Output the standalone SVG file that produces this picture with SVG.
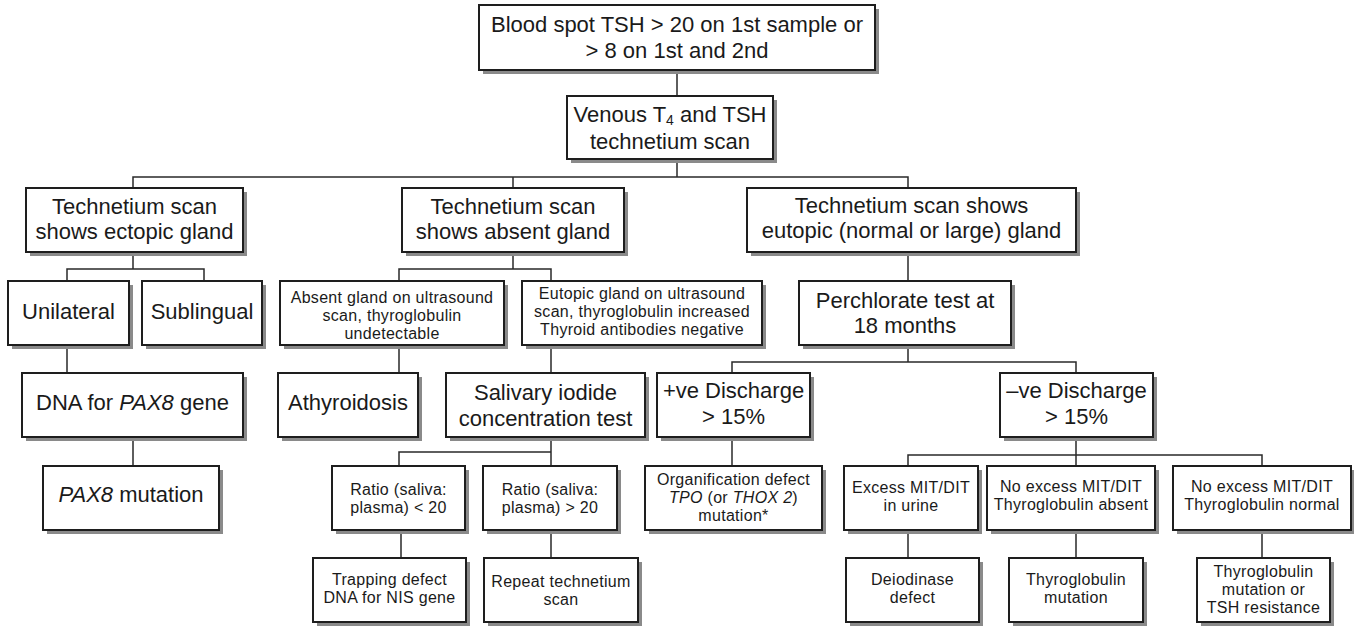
<svg xmlns="http://www.w3.org/2000/svg" width="1354" height="627" viewBox="0 0 1354 627">
  <style>
    .sh { fill: #8a8a8a; }
    .bx { fill: #ffffff; stroke: #1e1e1e; stroke-width: 2; }
    .lg { font-family: "Liberation Sans", Arial, sans-serif; font-size: 22px; fill: #1a1a1a; text-anchor: middle; }
    .sm { font-family: "Liberation Sans", Arial, sans-serif; font-size: 16px; letter-spacing: 0.3px; fill: #1a1a1a; text-anchor: middle; }
    .it { font-style: italic; }
    #connectors path { fill: none; stroke: #2a2a2a; stroke-width: 1.5; }
  </style>
  <rect width="1354" height="627" fill="#ffffff"/>

  <!-- tree connectors -->
  <g id="connectors">
    <path d="M677 70V96M677 159V177"/>
    <path d="M133 188V177H908V188M513 177V188"/>
    <path d="M133 252V269M67 281V269H204V281"/>
    <path d="M513 252V269M399 281V269H551V281"/>
    <path d="M908 252V281"/>
    <path d="M67 345V373M133 437V466"/>
    <path d="M399 345V373M551 345V373"/>
    <path d="M908 345V362M732 373V362H1076V373"/>
    <path d="M551 437V452M399 466V452H551V466"/>
    <path d="M732 437V466"/>
    <path d="M1076 437V455M908 466V455H1262V466M1076 455V466"/>
    <path d="M401 530V558M551 530V558M908 530V558M1076 530V558M1262 530V558"/>
  </g>

  <!-- level 0 -->
  <g id="n-bloodspot">
    <rect class="sh" x="483" y="9" width="396" height="65"/>
    <rect class="bx" x="479" y="5" width="396" height="65"/>
    <text class="lg" x="677" y="32">Blood spot TSH &gt; 20 on 1st sample or<tspan x="677" dy="26">&gt; 8 on 1st and 2nd</tspan></text>
  </g>
  <g id="n-venous">
    <rect class="sh" x="571" y="100" width="206" height="63"/>
    <rect class="bx" x="567" y="96" width="206" height="63"/>
    <text class="lg" x="670" y="122">Venous T<tspan font-size="14" dy="3">4</tspan><tspan dy="-3"> and TSH</tspan><tspan x="670" dy="26.5">technetium scan</tspan></text>
  </g>

  <!-- scan results -->
  <g id="n-ectopic">
    <rect class="sh" x="30" y="192" width="217" height="64"/>
    <rect class="bx" x="26" y="188" width="217" height="64"/>
    <text class="lg" x="134.5" y="214">Technetium scan<tspan x="134.5" dy="25">shows ectopic gland</tspan></text>
  </g>
  <g id="n-absent">
    <rect class="sh" x="406" y="192" width="222" height="64"/>
    <rect class="bx" x="402" y="188" width="222" height="64"/>
    <text class="lg" x="513" y="214">Technetium scan<tspan x="513" dy="25">shows absent gland</tspan></text>
  </g>
  <g id="n-eutopic">
    <rect class="sh" x="751" y="192" width="329" height="64"/>
    <rect class="bx" x="747" y="188" width="329" height="64"/>
    <text class="lg" x="911.5" y="213">Technetium scan shows<tspan x="911.5" dy="25">eutopic (normal or large) gland</tspan></text>
  </g>

  <!-- second row -->
  <g id="n-unilateral">
    <rect class="sh" x="12" y="285" width="121" height="64"/>
    <rect class="bx" x="8" y="281" width="121" height="64"/>
    <text class="lg" x="68.5" y="319">Unilateral</text>
  </g>
  <g id="n-sublingual">
    <rect class="sh" x="146" y="285" width="120" height="64"/>
    <rect class="bx" x="142" y="281" width="120" height="64"/>
    <text class="lg" x="202" y="319">Sublingual</text>
  </g>
  <g id="n-absent-us">
    <rect class="sh" x="284" y="285" width="224" height="64"/>
    <rect class="bx" x="280" y="281" width="224" height="64"/>
    <text class="sm" x="392" y="303">Absent gland on ultrasound<tspan x="392" dy="18">scan, thyroglobulin</tspan><tspan x="392" dy="18">undetectable</tspan></text>
  </g>
  <g id="n-eutopic-us">
    <rect class="sh" x="526" y="285" width="240" height="64"/>
    <rect class="bx" x="522" y="281" width="240" height="64"/>
    <text class="sm" x="642" y="299">Eutopic gland on ultrasound<tspan x="642" dy="18">scan, thyroglobulin increased</tspan><tspan x="642" dy="18">Thyroid antibodies negative</tspan></text>
  </g>
  <g id="n-perchlorate">
    <rect class="sh" x="803" y="285" width="212" height="64"/>
    <rect class="bx" x="799" y="281" width="212" height="64"/>
    <text class="lg" x="905" y="308">Perchlorate test at<tspan x="905" dy="25">18 months</tspan></text>
  </g>

  <!-- third row -->
  <g id="n-dna-pax8">
    <rect class="sh" x="26" y="377" width="221" height="64"/>
    <rect class="bx" x="22" y="373" width="221" height="64"/>
    <text class="lg" x="132.5" y="410">DNA for <tspan class="it">PAX8</tspan> gene</text>
  </g>
  <g id="n-athyroidosis">
    <rect class="sh" x="282" y="377" width="140" height="64"/>
    <rect class="bx" x="278" y="373" width="140" height="64"/>
    <text class="lg" x="348" y="410">Athyroidosis</text>
  </g>
  <g id="n-salivary">
    <rect class="sh" x="450" y="377" width="199" height="64"/>
    <rect class="bx" x="446" y="373" width="199" height="64"/>
    <text class="lg" x="545.5" y="400">Salivary iodide<tspan x="545.5" dy="26">concentration test</tspan></text>
  </g>
  <g id="n-pos-discharge">
    <rect class="sh" x="661" y="377" width="153" height="64"/>
    <rect class="bx" x="657" y="373" width="153" height="64"/>
    <text class="lg" x="733.5" y="398">+ve Discharge<tspan x="733.5" dy="26">&gt; 15%</tspan></text>
  </g>
  <g id="n-neg-discharge">
    <rect class="sh" x="1004" y="377" width="153" height="64"/>
    <rect class="bx" x="1000" y="373" width="153" height="64"/>
    <text class="lg" x="1076.5" y="398">–ve Discharge<tspan x="1076.5" dy="26">&gt; 15%</tspan></text>
  </g>

  <!-- fourth row -->
  <g id="n-pax8-mutation">
    <rect class="sh" x="47" y="470" width="176" height="64"/>
    <rect class="bx" x="43" y="466" width="176" height="64"/>
    <text class="lg" x="131" y="502"><tspan class="it">PAX8</tspan> mutation</text>
  </g>
  <g id="n-ratio-low">
    <rect class="sh" x="336" y="470" width="133" height="64"/>
    <rect class="bx" x="332" y="466" width="133" height="64"/>
    <text class="sm" x="398.5" y="495">Ratio (saliva:<tspan x="398.5" dy="18">plasma) &lt; 20</tspan></text>
  </g>
  <g id="n-ratio-high">
    <rect class="sh" x="487" y="470" width="134" height="64"/>
    <rect class="bx" x="483" y="466" width="134" height="64"/>
    <text class="sm" x="550" y="495">Ratio (saliva:<tspan x="550" dy="18">plasma) &gt; 20</tspan></text>
  </g>
  <g id="n-organification">
    <rect class="sh" x="649" y="470" width="177" height="64"/>
    <rect class="bx" x="645" y="466" width="177" height="64"/>
    <text class="sm" x="733.5" y="485">Organification defect<tspan x="733.5" dy="18"><tspan class="it">TPO</tspan> (or <tspan class="it">THOX 2</tspan>)</tspan><tspan x="733.5" dy="18">mutation*</tspan></text>
  </g>
  <g id="n-excess">
    <rect class="sh" x="848" y="470" width="134" height="64"/>
    <rect class="bx" x="844" y="466" width="134" height="64"/>
    <text class="sm" x="911" y="493">Excess MIT/DIT<tspan x="911" dy="18">in urine</tspan></text>
  </g>
  <g id="n-noexcess-absent">
    <rect class="sh" x="991" y="470" width="168" height="64"/>
    <rect class="bx" x="987" y="466" width="168" height="64"/>
    <text class="sm" x="1071" y="492">No excess MIT/DIT<tspan x="1071" dy="18">Thyroglobulin absent</tspan></text>
  </g>
  <g id="n-noexcess-normal">
    <rect class="sh" x="1177" y="470" width="178" height="64"/>
    <rect class="bx" x="1173" y="466" width="178" height="64"/>
    <text class="sm" x="1262" y="492">No excess MIT/DIT<tspan x="1262" dy="18">Thyroglobulin normal</tspan></text>
  </g>

  <!-- outcomes -->
  <g id="n-trapping">
    <rect class="sh" x="317" y="562" width="153" height="64"/>
    <rect class="bx" x="313" y="558" width="153" height="64"/>
    <text class="sm" x="389.5" y="585">Trapping defect<tspan x="389.5" dy="18">DNA for NIS gene</tspan></text>
  </g>
  <g id="n-repeat">
    <rect class="sh" x="488" y="562" width="154" height="64"/>
    <rect class="bx" x="484" y="558" width="154" height="64"/>
    <text class="sm" x="561" y="587">Repeat technetium<tspan x="561" dy="18">scan</tspan></text>
  </g>
  <g id="n-deiodinase">
    <rect class="sh" x="850" y="562" width="133" height="64"/>
    <rect class="bx" x="846" y="558" width="133" height="64"/>
    <text class="sm" x="912.5" y="585">Deiodinase<tspan x="912.5" dy="18">defect</tspan></text>
  </g>
  <g id="n-tg-mutation">
    <rect class="sh" x="1013" y="562" width="134" height="64"/>
    <rect class="bx" x="1009" y="558" width="134" height="64"/>
    <text class="sm" x="1076" y="585">Thyroglobulin<tspan x="1076" dy="18">mutation</tspan></text>
  </g>
  <g id="n-tg-or-tsh">
    <rect class="sh" x="1201" y="562" width="133" height="64"/>
    <rect class="bx" x="1197" y="558" width="133" height="64"/>
    <text class="sm" x="1263.5" y="577">Thyroglobulin<tspan x="1263.5" dy="18">mutation or</tspan><tspan x="1263.5" dy="18">TSH resistance</tspan></text>
  </g>
</svg>
